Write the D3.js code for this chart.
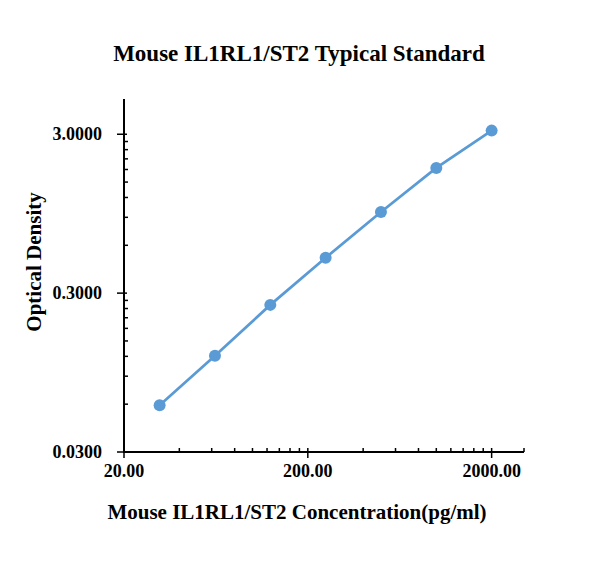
<!DOCTYPE html>
<html>

<head>
  <meta charset="utf-8">
  <title>Mouse IL1RL1/ST2 Typical Standard</title>
  <script src="https://cdnjs.cloudflare.com/ajax/libs/d3/7.8.5/d3.min.js"></script>
  <style>
    body {
      margin: 0;
      background: #fff;
    }

    text {
      font-family: "Liberation Serif", "Times New Roman", serif;
      font-weight: bold;
      fill: #000;
    }
  </style>
</head>

<body>
  <script>
    // standard curve readings
    var concentrations = [31.25, 62.5, 125, 250, 500, 1000, 2000];
    var densities = [0.059, 0.121, 0.253, 0.501, 0.972, 1.84, 3.162];

    var xTicks = [20, 200, 2000];
    var yTicks = [0.03, 0.3, 3];
    var xDomain = [20, 3000];
    var yDomain = [0.03, 5];

    var W = 616, H = 567;
    var plotL = 124, plotR = 524, plotT = 99, plotB = 452;

    var svg = d3.select("body").append("svg")
      .attr("width", W)
      .attr("height", H);

    svg.append("rect").attr("width", W).attr("height", H).attr("fill", "#fff");

    var x = d3.scaleLog().domain(xDomain).range([plotL, plotR]);
    var y = d3.scaleLog().domain(yDomain).range([plotB, plotT]);

    // minor ticks: every step of the decade, inside the plot
    function minors(ticks, max) {
      var out = [];
      ticks.forEach(function (t) {
        for (var k = 2; k <= 9; k++) {
          if (t * k < max) out.push(t * k);
        }
      });
      return out;
    }

    var xMinor = minors(xTicks, xDomain[1]);
    var yMinor = minors(yTicks, yDomain[1]);

    // x axis
    var gx = svg.append("g").attr("transform", "translate(0," + plotB + ")");
    gx.append("line")
      .attr("x1", plotL - 1).attr("x2", plotR)
      .attr("stroke", "#000").attr("stroke-width", 2);
    gx.selectAll("line.minor").data(xMinor.concat([xDomain[1]])).enter().append("line")
      .attr("class", "minor")
      .attr("x1", function (d) { return x(d); })
      .attr("x2", function (d) { return x(d); })
      .attr("y1", -4).attr("y2", 0)
      .attr("stroke", "#000").attr("stroke-width", 1.5);
    gx.selectAll("line.major").data(xTicks).enter().append("line")
      .attr("class", "major")
      .attr("x1", function (d) { return x(d); })
      .attr("x2", function (d) { return x(d); })
      .attr("y1", -4).attr("y2", 6)
      .attr("stroke", "#000").attr("stroke-width", 1.5);
    gx.selectAll("text").data(xTicks).enter().append("text")
      .attr("x", function (d) { return x(d); })
      .attr("y", 25)
      .attr("text-anchor", "middle")
      .attr("font-size", 18)
      .text(function (d) { return d3.format(".2f")(d); });

    // y axis
    var gy = svg.append("g").attr("transform", "translate(" + plotL + ",0)");
    gy.append("line")
      .attr("y1", plotT).attr("y2", plotB + 1)
      .attr("stroke", "#000").attr("stroke-width", 2);
    gy.selectAll("line.minor").data(yMinor).enter().append("line")
      .attr("class", "minor")
      .attr("y1", function (d) { return y(d); })
      .attr("y2", function (d) { return y(d); })
      .attr("x1", 0).attr("x2", 4)
      .attr("stroke", "#000").attr("stroke-width", 1.5);
    gy.selectAll("line.major").data(yTicks).enter().append("line")
      .attr("class", "major")
      .attr("y1", function (d) { return y(d); })
      .attr("y2", function (d) { return y(d); })
      .attr("x1", -7).attr("x2", 3)
      .attr("stroke", "#000").attr("stroke-width", 1.5);
    gy.selectAll("text").data(yTicks).enter().append("text")
      .attr("x", -22)
      .attr("y", function (d) { return y(d) + 6; })
      .attr("text-anchor", "end")
      .attr("font-size", 18)
      .text(function (d) { return d3.format(".4f")(d); });

    // series
    var pts = concentrations.map(function (c, i) { return [c, densities[i]]; });
    var line = d3.line()
      .x(function (d) { return x(d[0]); })
      .y(function (d) { return y(d[1]); });

    svg.append("path")
      .datum(pts)
      .attr("d", line)
      .attr("fill", "none")
      .attr("stroke", "#5B9BD5")
      .attr("stroke-width", 2.75);

    svg.selectAll("circle").data(pts).enter().append("circle")
      .attr("cx", function (d) { return x(d[0]); })
      .attr("cy", function (d) { return y(d[1]); })
      .attr("r", 6)
      .attr("fill", "#5B9BD5");

    // titles
    svg.append("text")
      .attr("x", 299).attr("y", 61)
      .attr("text-anchor", "middle")
      .attr("font-size", 23)
      .text("Mouse IL1RL1/ST2 Typical Standard");

    svg.append("text")
      .attr("x", 297).attr("y", 519)
      .attr("text-anchor", "middle")
      .attr("font-size", 21)
      .text("Mouse IL1RL1/ST2 Concentration(pg/ml)");

    svg.append("text")
      .attr("transform", "translate(41,262) rotate(-90)")
      .attr("text-anchor", "middle")
      .attr("font-size", 21)
      .text("Optical Density");
  </script>
</body>

</html>
